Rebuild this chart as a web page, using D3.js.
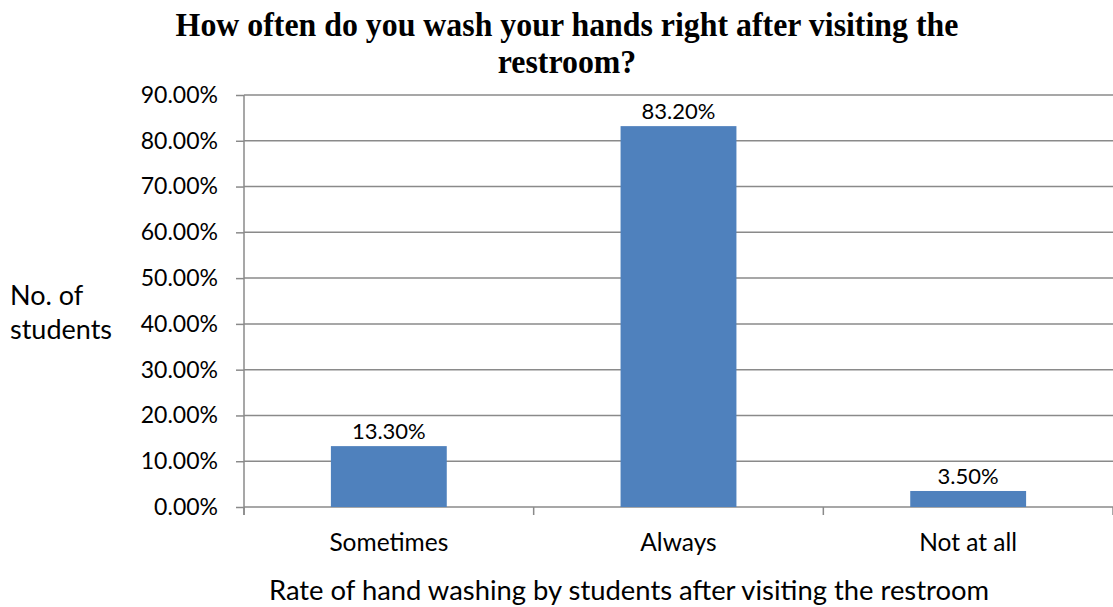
<!DOCTYPE html>
<html><head><meta charset="utf-8">
<script src="https://cdn.jsdelivr.net/npm/d3@7"></script>
<style>body{margin:0;background:#fff}svg{display:block}</style>
</head><body>
<svg id="c" width="1113" height="607"></svg>
<script>
const categories = ["Sometimes", "Always", "Not at all"];
const values = [13.3, 83.2, 3.5];
const valueLabels = ["13.30%", "83.20%", "3.50%"];
const yTicks = [0, 10, 20, 30, 40, 50, 60, 70, 80, 90];
const titleLines = ["How often do you wash your hands right after visiting the", "restroom?"];
const yTitle = ["No. of", "students"];
const xTitle = "Rate of hand washing by students after visiting the restroom";

const svg = d3.select("#c");
const m = {left: 244, right: 1113, top: 95, bottom: 507};
const x = d3.scaleBand().domain(categories).range([m.left, m.right]).paddingInner(0.6).paddingOuter(0.3);
const y = d3.scaleLinear().domain([0, 90]).range([m.bottom, m.top]);
const font = "Lato, 'Open Sans', sans-serif";
const grid = "#8a8a8a";

// gridlines
svg.append("g").selectAll("line").data(yTicks).join("line")
  .attr("x1", m.left).attr("x2", m.right)
  .attr("y1", d => y(d)).attr("y2", d => y(d))
  .attr("stroke", grid).attr("stroke-width", 1.5);

// y axis
const ya = svg.append("g").attr("transform", `translate(${m.left},0)`)
  .call(d3.axisLeft(y).tickValues(yTicks).tickSize(8).tickPadding(18).tickFormat(d => d.toFixed(2) + "%"));
ya.select(".domain").attr("stroke", grid).attr("stroke-width", 1.5).attr("d", `M0,${m.top}V${m.bottom + 8}`);
ya.selectAll(".tick line").attr("stroke", grid).attr("stroke-width", 1.5);
ya.selectAll("text").attr("font-family", font).attr("font-size", 23).attr("fill", "#000");

// x axis ticks at category boundaries
const boundaries = d3.range(categories.length + 1).map(i => m.left + i * (m.right - m.left) / categories.length);
svg.append("g").selectAll("line").data(boundaries).join("line")
  .attr("x1", d => d).attr("x2", d => d).attr("y1", m.bottom).attr("y2", m.bottom + 8)
  .attr("stroke", grid).attr("stroke-width", 1.5);

// bars
svg.append("g").selectAll("rect").data(values).join("rect")
  .attr("x", (d, i) => x(categories[i])).attr("width", x.bandwidth())
  .attr("y", d => y(d)).attr("height", d => y(0) - y(d))
  .attr("fill", "#4F81BD");

// value labels
svg.append("g").selectAll("text").data(values).join("text")
  .attr("x", (d, i) => x(categories[i]) + x.bandwidth() / 2)
  .attr("y", d => y(d) - 7)
  .attr("text-anchor", "middle").attr("font-family", font).attr("font-size", 22)
  .text((d, i) => valueLabels[i]);

// category labels
svg.append("g").selectAll("text").data(categories).join("text")
  .attr("x", d => x(d) + x.bandwidth() / 2).attr("y", 551)
  .attr("text-anchor", "middle").attr("font-family", font).attr("font-size", 24.5)
  .text(d => d);

// axis titles
svg.append("text").attr("x", 629).attr("y", 600).attr("text-anchor", "middle")
  .attr("font-family", font).attr("font-size", 27.4).text(xTitle);
svg.append("g").selectAll("text").data(yTitle).join("text")
  .attr("x", 10).attr("y", (d, i) => 305 + i * 34)
  .attr("font-family", font).attr("font-size", 27).text(d => d);

// title (condensed bold serif)
const tg = svg.append("g");
const tl = tg.selectAll("text").data(titleLines).join("text")
  .attr("x", 0).attr("y", (d, i) => 36 + i * 37)
  .attr("text-anchor", "middle").attr("font-family", "'Liberation Serif', serif")
  .attr("font-weight", "bold").attr("font-size", 34).text(d => d);
const natural = tl.node().getComputedTextLength();
tg.attr("transform", `translate(567,0) scale(${783 / natural},1)`);
</script>
</body></html>
